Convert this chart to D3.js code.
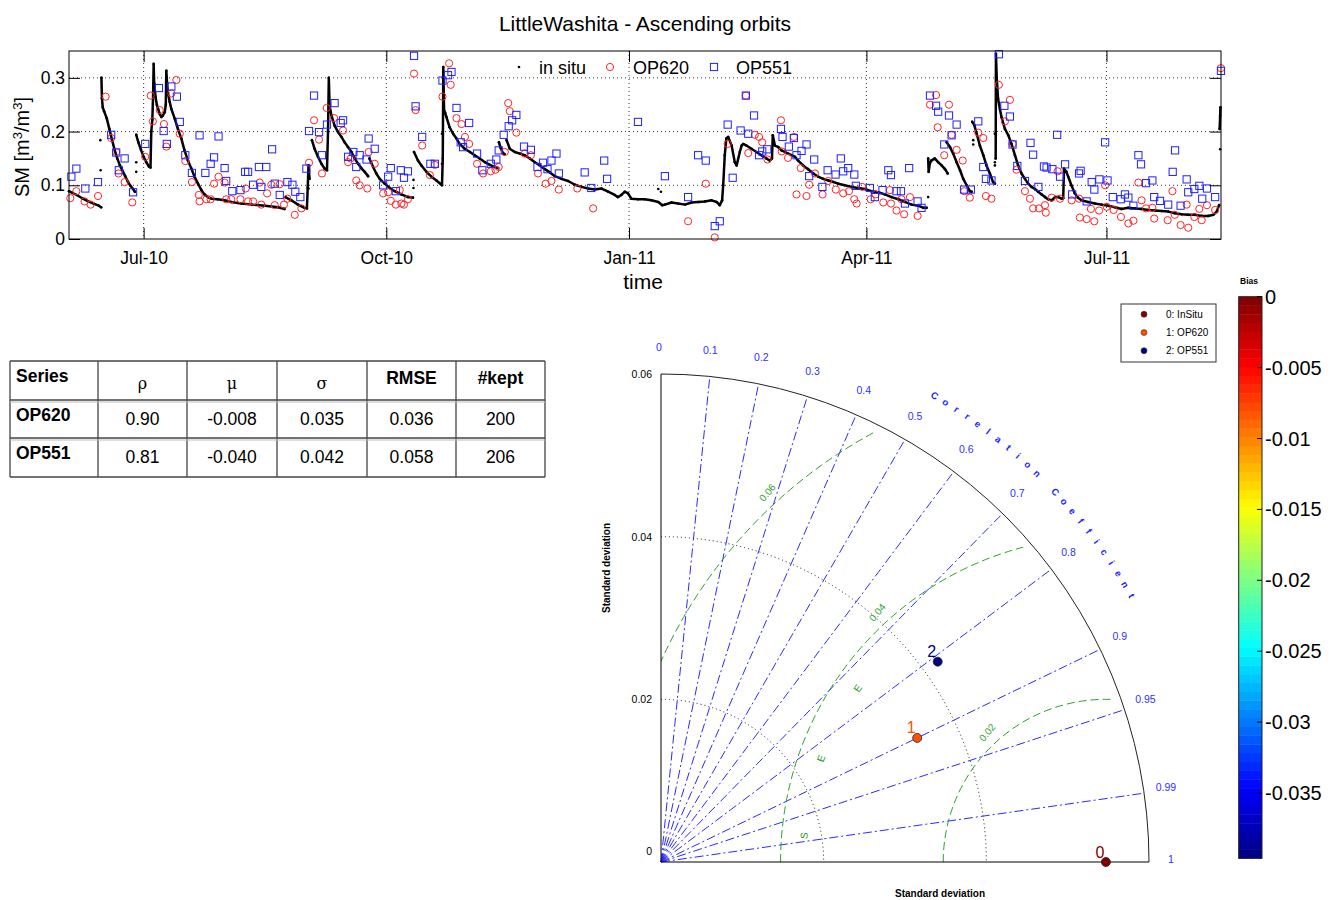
<!DOCTYPE html>
<html><head><meta charset="utf-8">
<script src="https://cdn.jsdelivr.net/npm/d3@7"></script>
<style>body{margin:0;background:#fff}svg{display:block;font-family:"Liberation Sans",Arial,Helvetica,sans-serif}</style>
</head><body><svg id="c" width="1341" height="900"></svg>
<script>
// ---------------- DATA ----------------
const chartTitle = "LittleWashita - Ascending orbits";
const baseDate = new Date(2010, 6, 1); // day 0 of the day offsets below
const timeDomain = [new Date(2010, 5, 2, 17), new Date(2011, 7, 13, 10)];
const xTickDates = [[2010, 7, 1], [2010, 10, 1], [2011, 1, 1], [2011, 4, 1], [2011, 7, 1]];
const xTickLabels = ["Jul-10", "Oct-10", "Jan-11", "Apr-11", "Jul-11"];
const yTicks = [0, 0.1, 0.2, 0.3];
const yDomain = [0, 0.35];

// in situ soil moisture: [day offset from 1 Jul 2010, SM]
const insituSegments = [
 [[-28.3,0.089],[-27,0.086],[-25,0.081],[-23,0.075],[-21,0.070],[-19,0.066],[-17,0.062],[-16.1,0.059]],
 [[-16.0,0.300],[-15.8,0.262],[-15.5,0.245],[-15,0.238],[-14,0.225],[-13,0.205],[-12,0.185],[-11,0.166],[-10,0.150],[-9,0.137],[-8,0.127],[-7,0.117],[-6,0.107],[-5,0.099],[-4,0.093],[-3.3,0.088]],
 [[-2.8,0.194],[-2,0.180],[-1,0.166],[0,0.153],[1,0.143],[2,0.135],[2.6,0.133],[2.9,0.200],[3.3,0.222],[3.6,0.270],[3.8,0.326],[4.0,0.290],[4.5,0.265],[5,0.250],[5.5,0.242],[6.1,0.233],[6.7,0.227],[7.3,0.230],[8.0,0.236],[8.4,0.250],[8.6,0.313],[8.9,0.290],[9.2,0.273],[9.9,0.255],[10.5,0.242],[11.8,0.224],[13,0.205],[14.3,0.187],[15.5,0.165],[16.8,0.146],[18.1,0.131],[19.3,0.116],[20.6,0.103],[21.9,0.091],[23.1,0.083],[24.4,0.078],[25.7,0.075],[28,0.074],[30.7,0.072],[33.2,0.069],[37,0.066],[41,0.064],[46,0.062],[51,0.059],[53.4,0.056]],
 [[53.7,0.078],[56,0.072],[58.5,0.064],[61,0.058],[61.9,0.057],[62.2,0.095],[62.5,0.137],[62.9,0.112]],
 [[63.8,0.184],[64.8,0.168],[66.1,0.153],[67.4,0.140],[68.6,0.131],[69.5,0.128],[69.9,0.200],[70.2,0.300],[70.5,0.248],[71.2,0.230],[72.4,0.211],[73.7,0.199],[75,0.190],[76.2,0.180],[77.5,0.171],[78.8,0.162],[80,0.150],[81.3,0.140],[82.5,0.132],[83.8,0.125],[85.1,0.117]],
 [[85.6,0.150],[87,0.134],[88.2,0.122],[89.5,0.112],[91.4,0.103],[93.3,0.095],[95.2,0.089],[97.7,0.083],[100.2,0.078],[102.1,0.077]],
 [[102.5,0.162],[104,0.146],[105.3,0.137],[107.2,0.125],[109.1,0.116],[111,0.109],[113.1,0.100],[113.4,0.150],[113.6,0.320],[113.9,0.240],[114.3,0.235],[114.8,0.227],[116,0.208],[117.3,0.196],[118.6,0.187],[119.8,0.177],[121.7,0.168],[123.7,0.162],[125.5,0.156],[127.4,0.150],[129.4,0.143],[131.2,0.138],[133.1,0.134],[134.4,0.132]],
 [[134.7,0.180],[135.3,0.170],[136.2,0.160],[136.8,0.158]],
 [[137.6,0.184],[138.8,0.168],[140.7,0.162],[142.6,0.159],[144.5,0.156],[146.4,0.150],[148.3,0.143],[150.2,0.137],[152.1,0.130],[154,0.124],[155.9,0.117],[158.4,0.112],[160.9,0.108],[163.5,0.101],[166,0.097],[168.5,0.094],[171,0.092],[173.6,0.094],[176.1,0.088],[178.6,0.082],[179.8,0.078],[181.1,0.082],[182.4,0.088],[183.6,0.085],[184.9,0.075],[187.4,0.074],[189.9,0.074],[192.5,0.072],[195.1,0.069],[196.6,0.063],[197.6,0.064],[200.1,0.068],[202.6,0.066],[205.2,0.064],[207.7,0.068],[210.2,0.069],[212.8,0.070],[215.3,0.072],[217.2,0.069],[218.4,0.063],[219.3,0.072],[219.7,0.100],[220.3,0.156],[220.9,0.187],[221.6,0.190],[222.9,0.174],[224.1,0.143],[224.8,0.137],[226,0.162],[226.7,0.174],[227.3,0.177],[228.5,0.174],[230.4,0.168],[232.3,0.162],[234.2,0.156],[236.1,0.150],[237.4,0.146],[238.2,0.150],[238.5,0.193],[239.3,0.174],[240.6,0.171],[241.8,0.165],[243.1,0.162],[244.3,0.159],[245.6,0.156],[246.9,0.153],[248.1,0.146],[250,0.137],[251.9,0.130],[253.9,0.122],[255.7,0.116],[257.6,0.112],[259.6,0.109],[261.5,0.106],[263.3,0.103],[265.8,0.100],[268.3,0.097],[270.9,0.095],[273.4,0.093],[275.9,0.089],[278.5,0.087],[281,0.083],[283.5,0.078],[286.1,0.074],[288.6,0.069],[291.1,0.064],[293.6,0.062],[295.6,0.058],[296.8,0.058]],
 [[297.4,0.150],[297.6,0.125],[298,0.140],[298.6,0.146],[299.9,0.150],[301.2,0.143],[302.5,0.137],[303.8,0.130],[304.8,0.122]],
 [[304.4,0.180],[305.7,0.171],[306.9,0.159],[308.2,0.143],[309.5,0.128],[310.7,0.112],[312,0.100],[313.2,0.089],[313.9,0.088]],
 [[314.1,0.218],[314.9,0.212],[315.8,0.196],[317,0.174],[318.3,0.156],[319.5,0.137],[320.8,0.122],[322,0.106],[322.7,0.103]],
 [[323.0,0.150],[323.1,0.345],[323.4,0.300],[323.9,0.261],[324.6,0.242],[325.2,0.227],[326.5,0.205],[327.8,0.193],[329,0.177],[330.3,0.156],[331.5,0.137],[332.8,0.122],[334.1,0.112],[335.3,0.103],[336.6,0.097],[337.9,0.093],[339.1,0.088],[340.4,0.083],[341.7,0.078],[342.9,0.074],[344.2,0.072],[345.5,0.078],[346.7,0.078],[348,0.075],[348.6,0.076],[348.9,0.131],[349.8,0.125],[350.5,0.116],[351.7,0.100],[353,0.085],[354.2,0.077],[355.5,0.072],[358,0.069],[360.6,0.066],[363.1,0.064],[365.6,0.062],[368.2,0.059],[370.7,0.056],[373.2,0.058],[375.8,0.057],[378.3,0.056],[380.8,0.054],[383.4,0.053],[385.9,0.052],[388.4,0.051],[390.9,0.048],[393.5,0.046],[396,0.045],[398.5,0.045],[401.1,0.043],[403.6,0.043],[405.5,0.045],[406.8,0.051],[407.7,0.063]],
 [[407.9,0.205],[408.1,0.230],[408.2,0.245]]
];
const insituStray = [[-16.4,0.184],[-16.3,0.128],[-2.8,0.143],[-2.8,0.125],[62.5,0.094],[102.3,0.095],[102.3,0.110],[113.1,0.196],[113.1,0.140],[195.1,0.093],[196.1,0.088],[297.4,0.078],[314.5,0.184],[314.5,0.176],[322.7,0.196],[322.7,0.143],[322.7,0.137],[408.1,0.167]];

// OP620 retrievals: [day offset, SM]
const op620 = [[-27.8,0.076],[-25.5,0.089],[-22.4,0.070],[-20.1,0.064],[-17.3,0.080],[-14.4,0.265],[-12.3,0.188],[-10.4,0.162],[-9.5,0.122],[-7.2,0.106],[-4.3,0.068],[0.6,0.153],[2.7,0.267],[3.5,0.219],[6.1,0.240],[7.7,0.214],[8.6,0.172],[10.5,0.271],[12.4,0.296],[13.7,0.196],[15.8,0.145],[18.3,0.106],[20.9,0.082],[21.2,0.070],[23.8,0.074],[25.4,0.074],[26.7,0.103],[28.4,0.116],[30.7,0.105],[31.3,0.074],[33.2,0.074],[36.7,0.074],[38.7,0.094],[39.6,0.070],[41.5,0.070],[44.0,0.105],[44.6,0.064],[46.8,0.085],[48.4,0.101],[49.7,0.063],[51.6,0.102],[53.2,0.064],[54.5,0.075],[57.3,0.045],[59.8,0.057],[62.7,0.142],[64.6,0.221],[66.5,0.185],[67.6,0.122],[69.4,0.244],[72.2,0.225],[75.6,0.202],[77.5,0.143],[78.5,0.150],[80.6,0.109],[81.9,0.100],[84.8,0.094],[85.3,0.162],[87.6,0.140],[90.8,0.085],[92.7,0.087],[93.7,0.071],[95.6,0.064],[97.1,0.091],[97.7,0.066],[98.7,0.064],[100.2,0.074],[102.5,0.308],[103.1,0.240],[105.6,0.174],[108.5,0.119],[110.4,0.138],[113.3,0.265],[115.8,0.327],[116.4,0.287],[118.6,0.225],[120.5,0.214],[121.8,0.190],[123.4,0.177],[126.4,0.140],[128.7,0.122],[131.6,0.126],[133.4,0.129],[134.6,0.134],[136.9,0.162],[138.2,0.253],[138.8,0.238],[141.3,0.198],[144.5,0.159],[146.8,0.156],[149.5,0.122],[152.4,0.103],[154.6,0.108],[157.4,0.092],[164.4,0.094],[170.4,0.057],[206.4,0.033],[213.1,0.103],[216.5,0.003],[221.4,0.177],[228.3,0.267],[229.2,0.160],[231.7,0.194],[233.3,0.190],[234.5,0.180],[236.5,0.148],[241.6,0.221],[241.9,0.163],[244.3,0.151],[246.5,0.190],[247.5,0.083],[249.1,0.132],[251.3,0.080],[252.3,0.101],[254.5,0.122],[257.4,0.083],[259.5,0.108],[262.4,0.092],[265.2,0.085],[267.4,0.089],[269.4,0.074],[270.3,0.066],[272.4,0.097],[275.6,0.074],[277.5,0.083],[280.4,0.068],[282.9,0.091],[283.3,0.066],[285.4,0.053],[287.3,0.074],[288.3,0.046],[290.5,0.078],[293.4,0.043],[298.1,0.250],[300.4,0.268],[301.0,0.208],[303.5,0.156],[305.3,0.250],[306.3,0.194],[308.2,0.166],[310.5,0.146],[311.1,0.089],[313.2,0.077],[316.4,0.198],[318.3,0.188],[319.3,0.080],[321.4,0.075],[324.2,0.287],[326.5,0.219],[328.4,0.259],[329.4,0.177],[330.9,0.129],[334.1,0.089],[336.0,0.075],[337.2,0.057],[339.4,0.057],[341.7,0.063],[342.0,0.049],[344.2,0.077],[346.5,0.126],[347.4,0.075],[351.8,0.072],[354.6,0.075],[354.9,0.040],[357.5,0.037],[359.1,0.056],[360.4,0.033],[362.2,0.053],[364.5,0.100],[365.1,0.060],[367.7,0.054],[370.5,0.041],[373.3,0.029],[375.2,0.034],[377.1,0.105],[378.3,0.072],[380.0,0.057],[382.4,0.058],[383.1,0.038],[388.2,0.035],[390.0,0.089],[390.9,0.045],[393.1,0.026],[395.4,0.064],[396.0,0.021],[398.3,0.041],[400.2,0.056],[401.1,0.035],[403.1,0.063],[406.2,0.054],[408.4,0.318]];

// OP551 retrievals: [day offset, SM]
const op551 = [[-27.4,0.116],[-25.5,0.131],[-22.1,0.094],[-17.3,0.106],[-12.3,0.194],[-10.4,0.161],[-9.4,0.128],[-7.2,0.150],[-4.0,0.087],[0.6,0.177],[5.8,0.281],[7.6,0.201],[8.8,0.177],[10.5,0.284],[12.6,0.265],[13.7,0.218],[15.8,0.156],[18.3,0.123],[21.2,0.193],[23.4,0.123],[25.4,0.140],[26.7,0.152],[28.4,0.191],[30.7,0.132],[31.3,0.108],[33.6,0.089],[36.7,0.091],[38.5,0.125],[39.6,0.125],[41.5,0.101],[43.7,0.134],[44.6,0.097],[46.5,0.134],[48.7,0.167],[49.7,0.103],[51.6,0.082],[54.5,0.106],[56.4,0.101],[57.5,0.088],[59.4,0.078],[61.7,0.131],[62.7,0.201],[64.6,0.267],[66.5,0.199],[67.6,0.156],[69.5,0.213],[72.4,0.253],[74.7,0.216],[75.6,0.221],[77.5,0.153],[79.5,0.162],[80.6,0.134],[81.9,0.156],[84.5,0.148],[85.3,0.187],[87.6,0.168],[90.8,0.100],[92.7,0.116],[93.7,0.132],[95.6,0.089],[97.5,0.128],[98.7,0.114],[100.2,0.126],[102.5,0.341],[103.1,0.247],[105.6,0.190],[108.7,0.140],[110.4,0.140],[113.3,0.295],[115.4,0.305],[116.7,0.311],[118.6,0.244],[120.2,0.180],[121.1,0.171],[123.4,0.216],[126.4,0.159],[128.4,0.128],[131.6,0.140],[133.7,0.148],[134.6,0.165],[136.5,0.194],[138.4,0.210],[139.7,0.221],[141.3,0.231],[144.2,0.172],[146.8,0.166],[149.3,0.134],[151.4,0.142],[153.1,0.130],[154.6,0.146],[156.5,0.159],[157.4,0.122],[167.2,0.124],[169.7,0.095],[174.6,0.146],[175.7,0.112],[187.4,0.218],[197.6,0.117],[206.4,0.078],[210.2,0.156],[213.1,0.146],[216.5,0.024],[218.4,0.033],[221.4,0.213],[223.3,0.114],[226.3,0.202],[228.3,0.267],[229.2,0.196],[231.4,0.230],[233.3,0.156],[234.5,0.163],[236.4,0.167],[241.6,0.205],[242.2,0.190],[244.6,0.172],[246.5,0.188],[247.5,0.156],[249.4,0.164],[251.3,0.176],[252.3,0.117],[254.2,0.148],[257.3,0.097],[259.3,0.128],[262.3,0.120],[264.3,0.150],[265.2,0.126],[267.1,0.132],[269.4,0.120],[270.0,0.099],[275.3,0.095],[277.2,0.078],[280.1,0.091],[282.3,0.128],[283.3,0.119],[285.4,0.089],[287.1,0.089],[288.6,0.066],[290.2,0.132],[293.4,0.070],[294.9,0.058],[298.1,0.267],[300.4,0.248],[301.2,0.237],[303.5,0.176],[305.3,0.230],[306.3,0.193],[308.2,0.213],[311.0,0.092],[313.6,0.092],[316.4,0.219],[318.3,0.134],[319.3,0.112],[321.4,0.109],[324.2,0.344],[326.3,0.248],[328.4,0.228],[329.4,0.176],[331.2,0.136],[334.1,0.108],[336.2,0.179],[337.2,0.157],[339.2,0.097],[341.3,0.135],[342.3,0.133],[344.5,0.130],[346.3,0.194],[347.4,0.116],[349.3,0.139],[352.0,0.083],[354.6,0.122],[355.2,0.127],[357.5,0.070],[359.4,0.106],[360.4,0.092],[362.3,0.111],[364.5,0.180],[365.4,0.109],[367.4,0.078],[370.4,0.074],[372.0,0.083],[373.3,0.077],[375.2,0.062],[377.1,0.156],[378.1,0.139],[380.0,0.104],[382.4,0.109],[383.1,0.078],[385.3,0.071],[388.4,0.064],[390.1,0.125],[391.0,0.165],[393.1,0.062],[395.4,0.111],[396.0,0.087],[398.3,0.093],[400.2,0.099],[401.3,0.075],[403.1,0.094],[406.2,0.078],[408.4,0.313]];

const legendLabels = ["in situ", "OP620", "OP551"];

// statistics table
const tableHeader = ["Series", "ρ", "μ", "σ", "RMSE", "#kept"];
const tableRows = [
  ["OP620", "0.90", "-0.008", "0.035", "0.036", "200"],
  ["OP551", "0.81", "-0.040", "0.042", "0.058", "206"]
];

// Taylor diagram
const taylorLabels = ["0: InSitu", "1: OP620", "2: OP551"];
const taylorStd = [0.0547, 0.035, 0.042];
const taylorCorr = [1, 0.90, 0.81];
const taylorBias = [0, -0.008, -0.040];
const corrTicks = [0, 0.1, 0.2, 0.3, 0.4, 0.5, 0.6, 0.7, 0.8, 0.9, 0.95, 0.99, 1];
const corrLines = [0.1, 0.2, 0.3, 0.4, 0.5, 0.6, 0.7, 0.8, 0.9, 0.95, 0.99];
const stdTicks = [0, 0.02, 0.04, 0.06];
const stdMax = 0.06;
const rmsLevels = [0.02, 0.04, 0.06];
const rmsLetters = ["S", "E", "E"];
const biasTicks = [0, -0.005, -0.01, -0.015, -0.02, -0.025, -0.03, -0.035];
const biasDomain = [-0.0396, 0];

// ---------------- DRAW ----------------
const svg = d3.select("#c");
const dayToDate = d => new Date(baseDate.getTime() + d * 864e5);
const x = d3.scaleTime().domain(timeDomain).range([69, 1221]);
const y = d3.scaleLinear().domain(yDomain).range([239, 51]);
const tickDates = xTickDates.map(a => new Date(a[0], a[1] - 1, a[2]));

svg.append("text").attr("x", 645).attr("y", 31).attr("text-anchor", "middle")
  .attr("font-size", 21).text(chartTitle);

const tp = svg.append("g");
// grid
tp.selectAll(".gx").data(tickDates).join("line").attr("class", "gx")
  .attr("x1", d => x(d)).attr("x2", d => x(d)).attr("y1", 51).attr("y2", 239)
  .attr("stroke", "#000").attr("stroke-width", 0.8).attr("stroke-dasharray", "1,3");
tp.selectAll(".gy").data(yTicks.filter(v => v > 0)).join("line").attr("class", "gy")
  .attr("x1", 69).attr("x2", 1221).attr("y1", d => y(d)).attr("y2", d => y(d))
  .attr("stroke", "#000").attr("stroke-width", 0.8).attr("stroke-dasharray", "1,3");

// in situ
const line = d3.line().x(d => x(dayToDate(d[0]))).y(d => y(d[1]));
tp.selectAll(".ins").data(insituSegments).join("path").attr("class", "ins")
  .attr("d", line).attr("fill", "none").attr("stroke", "#000").attr("stroke-width", 2.5)
  .attr("stroke-linejoin", "round").attr("stroke-linecap", "round");
tp.selectAll(".stray").data(insituSegments.flat().concat(insituStray)).join("circle").attr("class", "stray")
  .attr("cx", d => x(dayToDate(d[0]))).attr("cy", d => y(d[1])).attr("r", 1.3).attr("fill", "#000");

// OP620 circles
tp.selectAll(".o620").data(op620).join("circle").attr("class", "o620")
  .attr("cx", d => x(dayToDate(d[0]))).attr("cy", d => y(d[1])).attr("r", 3.6)
  .attr("fill", "none").attr("stroke", "#ff2525").attr("stroke-width", 1);
// OP551 squares
tp.selectAll(".o551").data(op551).join("rect").attr("class", "o551")
  .attr("x", d => x(dayToDate(d[0])) - 3.6).attr("y", d => y(d[1]) - 3.6)
  .attr("width", 7.2).attr("height", 7.2)
  .attr("fill", "none").attr("stroke", "#2020ff").attr("stroke-width", 1);

// axes
const styleAxis = g => {
  g.select(".domain").remove();
  g.selectAll("line").attr("stroke", "#000");
  g.selectAll("text").attr("font-size", 17.5).attr("fill", "#000")
    .attr("font-family", '"Liberation Sans", Arial, sans-serif');
};
tp.append("g").attr("transform", "translate(0,239)")
  .call(d3.axisBottom(x).tickValues(tickDates).tickFormat((d, i) => xTickLabels[i])
    .tickSizeInner(-11).tickSizeOuter(0).tickPadding(13)).call(styleAxis);
tp.append("g").attr("transform", "translate(0,51)")
  .call(d3.axisTop(x).tickValues(tickDates).tickFormat("").tickSizeInner(-11).tickSizeOuter(0)).call(styleAxis);
tp.append("g").attr("transform", "translate(69,0)")
  .call(d3.axisLeft(y).tickValues(yTicks).tickFormat(d => d === 0 ? "0" : d3.format(".1f")(d))
    .tickSizeInner(-11).tickSizeOuter(0).tickPadding(4)).call(styleAxis);
tp.append("g").attr("transform", "translate(1221,0)")
  .call(d3.axisRight(y).tickValues(yTicks).tickFormat("").tickSizeInner(-11).tickSizeOuter(0)).call(styleAxis);
tp.append("rect").attr("x", 69).attr("y", 51).attr("width", 1152).attr("height", 188)
  .attr("fill", "none").attr("stroke", "#000").attr("stroke-width", 1);

// axis labels
tp.append("text").attr("x", 643).attr("y", 289).attr("text-anchor", "middle").attr("font-size", 21).text("time");
const yl = tp.append("text").attr("transform", "translate(29,147) rotate(-90)")
  .attr("text-anchor", "middle").attr("font-size", 20);
yl.append("tspan").text("SM [m");
yl.append("tspan").attr("baseline-shift", "super").attr("font-size", 13).text("3");
yl.append("tspan").text("/m");
yl.append("tspan").attr("baseline-shift", "super").attr("font-size", 13).text("3");
yl.append("tspan").text("]");

// legend (top chart)
const lg = tp.append("g");
lg.append("circle").attr("cx", 519).attr("cy", 67).attr("r", 1.3).attr("fill", "#000");
lg.append("circle").attr("cx", 610).attr("cy", 67).attr("r", 3.6).attr("fill", "none").attr("stroke", "#ff2525");
lg.append("rect").attr("x", 710.4).attr("y", 63.4).attr("width", 7.2).attr("height", 7.2).attr("fill", "none").attr("stroke", "#2020ff");
[539, 633, 736].forEach((lx, i) => lg.append("text").attr("x", lx).attr("y", 73.5).attr("font-size", 18).text(legendLabels[i]));

// ---------------- TABLE ----------------
const colX = [10, 98, 187, 277, 367, 456, 545];
const rowY = [361, 400, 438, 477];
const tb = svg.append("g");
colX.forEach(cx => tb.append("line").attr("x1", cx).attr("x2", cx).attr("y1", rowY[0]).attr("y2", rowY[3]).attr("stroke", "#444").attr("stroke-width", 1.3));
rowY.forEach(ry => tb.append("line").attr("x1", colX[0]).attr("x2", colX[6]).attr("y1", ry).attr("y2", ry).attr("stroke", "#444").attr("stroke-width", 1.3));
[rowY[1] + 2, rowY[2] + 2].forEach(ry => tb.append("line").attr("x1", colX[0]).attr("x2", colX[6]).attr("y1", ry).attr("y2", ry).attr("stroke", "#bbb").attr("stroke-width", 1));
const isGreek = s => /[ρμσ]/.test(s);
tableHeader.forEach((h, i) => {
  const t = tb.append("text").attr("font-size", 17.5).attr("dominant-baseline", "central");
  if (i === 0) t.attr("x", colX[0] + 6).attr("y", rowY[0] + 15).attr("font-weight", "bold");
  else if (isGreek(h)) t.attr("x", (colX[i] + colX[i + 1]) / 2).attr("y", rowY[0] + 22).attr("text-anchor", "middle").attr("font-family", '"DejaVu Serif", serif').attr("font-size", 16);
  else t.attr("x", (colX[i] + colX[i + 1]) / 2).attr("y", rowY[0] + 17).attr("text-anchor", "middle").attr("font-weight", "bold");
  t.text(h);
});
tableRows.forEach((row, r) => {
  row.forEach((v, i) => {
    const t = tb.append("text").attr("font-size", 17.5).attr("dominant-baseline", "central");
    if (i === 0) t.attr("x", colX[0] + 6).attr("y", rowY[r + 1] + 14.5).attr("font-weight", "bold");
    else t.attr("x", (colX[i] + colX[i + 1]) / 2).attr("y", rowY[r + 1] + 19).attr("text-anchor", "middle");
    t.text(v);
  });
});

// ---------------- TAYLOR ----------------
const ox = 661, oy = 862;
const rs = d3.scaleLinear().domain([0, stdMax]).range([0, 488]);
const R = rs(stdMax);
const ty = svg.append("g");
const jet = t => {
  t = Math.max(0, Math.min(1, t));
  const c = v => Math.round(255 * Math.max(0, Math.min(1, v)));
  return `rgb(${c(1.5 - Math.abs(4 * t - 3))},${c(1.5 - Math.abs(4 * t - 2))},${c(1.5 - Math.abs(4 * t - 1))})`;
};
const biasT = d3.scaleLinear().domain(biasDomain).range([0, 1]);

// clip for RMS arcs
const clipR = rs(0.059);
svg.append("defs").append("clipPath").attr("id", "qclip").append("path")
  .attr("d", `M${ox},${oy} L${ox},${oy - clipR} A${clipR},${clipR} 0 0 1 ${ox + clipR},${oy} Z`);

// std dotted arcs
stdTicks.filter(s => s > 0 && s < stdMax).forEach(s => {
  const p = d3.path(); p.moveTo(ox, oy - rs(s)); p.arc(ox, oy, rs(s), -Math.PI / 2, 0);
  ty.append("path").attr("d", p.toString()).attr("fill", "none").attr("stroke", "#000")
    .attr("stroke-width", 0.9).attr("stroke-dasharray", "1,3");
});

// correlation lines
corrLines.forEach(c => {
  const a = Math.acos(c);
  ty.append("line").attr("x1", ox).attr("y1", oy).attr("x2", ox + R * Math.cos(a)).attr("y2", oy - R * Math.sin(a))
    .attr("stroke", "#2a2aff").attr("stroke-width", 1).attr("stroke-dasharray", "9,3,2,3");
});

// RMS arcs
const refX = ox + rs(taylorStd[0]);
const rg = ty.append("g").attr("clip-path", "url(#qclip)");
rmsLevels.forEach(lv => {
  const p = d3.path(); p.moveTo(refX - rs(lv), oy); p.arc(refX, oy, rs(lv), -Math.PI, 0);
  rg.append("path").attr("d", p.toString()).attr("fill", "none").attr("stroke", "#2ca02c")
    .attr("stroke-width", 1).attr("stroke-dasharray", "8,4");
});
rmsLevels.forEach(lv => {
  const a = 132.5 * Math.PI / 180, rr = rs(lv) + 13;
  const lx = refX + rr * Math.cos(a), lyy = oy - rr * Math.sin(a);
  ty.append("text").attr("transform", `translate(${lx},${lyy}) rotate(-50)`).attr("text-anchor", "middle")
    .attr("dominant-baseline", "central").attr("font-size", 10).attr("fill", "#2ca02c").text(String(lv));
});
[175, 160, 145].forEach((deg, i) => {
  const a = deg * Math.PI / 180, rr = 303;
  ty.append("text").attr("transform", `translate(${refX + rr * Math.cos(a)},${oy - rr * Math.sin(a)}) rotate(${-(deg - 90)})`)
    .attr("text-anchor", "middle").attr("dominant-baseline", "central").attr("font-size", 10)
    .attr("fill", "#1e961e").text(rmsLetters[i]);
});

// outer arc and axes
{
  const p = d3.path(); p.moveTo(ox, oy - R); p.arc(ox, oy, R, -Math.PI / 2, 0);
  ty.append("path").attr("d", p.toString()).attr("fill", "none").attr("stroke", "#222").attr("stroke-width", 1);
}
ty.append("line").attr("x1", ox).attr("x2", ox).attr("y1", oy).attr("y2", oy - R).attr("stroke", "#000");
ty.append("line").attr("x1", ox).attr("x2", ox + R).attr("y1", oy).attr("y2", oy).attr("stroke", "#000");

// std tick labels
stdTicks.forEach(s => {
  ty.append("text").attr("x", 652).attr("y", s === 0 ? 851 : oy - rs(s)).attr("text-anchor", "end")
    .attr("dominant-baseline", "central").attr("font-size", 10.5).text(s === 0 ? "0" : d3.format(".2f")(s));
});
// correlation labels
corrTicks.forEach(c => {
  const a = Math.acos(c), rr = 512;
  ty.append("text").attr("x", ox + rr * Math.cos(a) - 2).attr("y", oy - rr * Math.sin(a) - 3)
    .attr("text-anchor", "middle").attr("dominant-baseline", "central").attr("font-size", 10.5)
    .attr("fill", "#3030ff").text(String(c));
});
// "Correlation Coefficient" along arc
{
  const str = "Correlation Coefficient";
  const a0 = 59.6, step = (59.6 - 29.5) / (str.length - 1), rr = 541;
  str.split("").forEach((ch, i) => {
    if (ch === " ") return;
    const deg = a0 - i * step, a = deg * Math.PI / 180;
    ty.append("text").attr("transform", `translate(${ox + rr * Math.cos(a)},${oy - rr * Math.sin(a)}) rotate(${90 - deg})`)
      .attr("text-anchor", "middle").attr("dominant-baseline", "central").attr("font-size", 9.5)
      .attr("font-weight", "bold").attr("fill", "#1a1aff").text(ch);
  });
}
// axis titles
ty.append("text").attr("x", 940).attr("y", 893).attr("text-anchor", "middle").attr("dominant-baseline", "central")
  .attr("font-size", 10).attr("font-weight", "bold").text("Standard deviation");
ty.append("text").attr("transform", "translate(606,568) rotate(-90)").attr("text-anchor", "middle")
  .attr("dominant-baseline", "central").attr("font-size", 10).attr("font-weight", "bold").text("Standard deviation");

// points
const pts = taylorStd.map((s, i) => {
  const a = Math.acos(taylorCorr[i]);
  return { x: ox + rs(s) * Math.cos(a), y: oy - rs(s) * Math.sin(a), col: jet(biasT(taylorBias[i])), i };
});
pts.forEach(p => {
  ty.append("circle").attr("cx", p.x).attr("cy", p.y).attr("r", 4.5).attr("fill", p.col).attr("stroke", "#222").attr("stroke-width", 0.8);
  ty.append("text").attr("x", p.x - 6).attr("y", p.y - 10).attr("text-anchor", "middle").attr("dominant-baseline", "central")
    .attr("font-size", 16).attr("fill", p.col).text(String(p.i));
});

// legend box
const lb = svg.append("g");
lb.append("rect").attr("x", 1121).attr("y", 304).attr("width", 95).attr("height", 58).attr("fill", "#fff").attr("stroke", "#333");
pts.forEach((p, i) => {
  const ly = 314.3 + i * 18.2;
  lb.append("circle").attr("cx", 1144).attr("cy", ly).attr("r", 3).attr("fill", p.col).attr("stroke", "#333").attr("stroke-width", 0.6);
  lb.append("text").attr("x", 1166).attr("y", ly).attr("dominant-baseline", "central").attr("font-size", 10).text(taylorLabels[i]);
});

// colorbar
const cb = svg.append("g");
const cbY = d3.scaleLinear().domain(biasDomain).range([858.3, 296.7]);
const nb = 64;
d3.range(nb).forEach(k => {
  const v0 = biasDomain[0] + (biasDomain[1] - biasDomain[0]) * k / nb;
  const v1 = biasDomain[0] + (biasDomain[1] - biasDomain[0]) * (k + 1) / nb;
  cb.append("rect").attr("x", 1238.7).attr("width", 23.3).attr("y", cbY(v1)).attr("height", cbY(v0) - cbY(v1) + 0.4)
    .attr("fill", jet((k + 0.5) / nb));
});
cb.append("rect").attr("x", 1238.7).attr("y", 296.7).attr("width", 23.3).attr("height", 561.6)
  .attr("fill", "none").attr("stroke", "#222").attr("stroke-width", 1);
biasTicks.forEach(b => {
  cb.append("line").attr("x1", 1257).attr("x2", 1262).attr("y1", cbY(b)).attr("y2", cbY(b)).attr("stroke", "#000");
  cb.append("text").attr("x", 1265).attr("y", cbY(b)).attr("dominant-baseline", "central").attr("font-size", 20)
    .text(b === 0 ? "0" : String(b));
});
cb.append("text").attr("x", 1249).attr("y", 281).attr("text-anchor", "middle").attr("dominant-baseline", "central")
  .attr("font-size", 8.5).attr("font-weight", "bold").text("Bias");
</script></body></html>
